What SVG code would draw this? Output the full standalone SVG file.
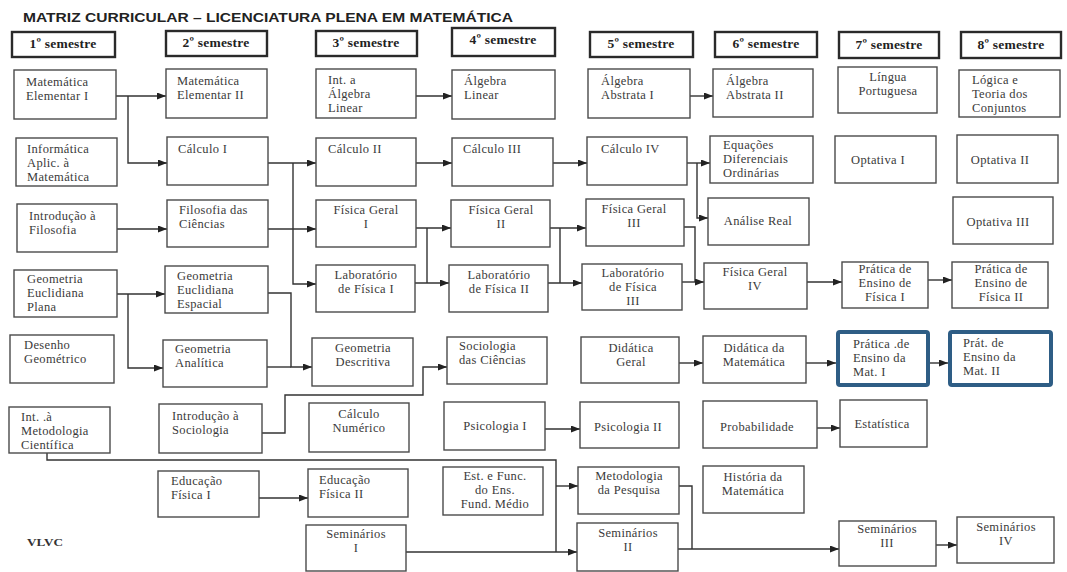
<svg xmlns="http://www.w3.org/2000/svg" width="1067" height="572" viewBox="0 0 1067 572">
<defs>
<marker id="ar" markerWidth="9" markerHeight="7" refX="9" refY="3.5" orient="auto" markerUnits="userSpaceOnUse"><path d="M0,0 L9,3.5 L0,7 z" fill="#222"/></marker>
<style>
.b{fill:#fff;stroke:#4a4a4a;stroke-width:1.4}
.h{fill:#fff;stroke:#2a2a2a;stroke-width:2.4}
.bl{fill:#fff;stroke:#2e5d85;stroke-width:4}
text{font-family:"Liberation Serif","Times New Roman",serif;font-size:12.5px;letter-spacing:0.35px;fill:#3a3a3a}
.c{text-anchor:middle}
.ht{font-weight:bold;fill:#222;font-size:13.5px;letter-spacing:0.2px}
.title{font-family:"Liberation Sans",Arial,sans-serif;font-weight:bold;font-size:13px;letter-spacing:0;fill:#222}
#connectors path{fill:none;stroke:#333;stroke-width:1.4}
#connectors path.a{marker-end:url(#ar)}
</style>
</defs>
<rect width="1067" height="572" fill="#fff"/>
<text class="title" x="23" y="22" textLength="490" lengthAdjust="spacingAndGlyphs">MATRIZ CURRICULAR – LICENCIATURA PLENA EM MATEMÁTICA</text>

<g id="headers">
<g id="s1"><rect class="h" x="12" y="32" width="103" height="25"/><text class="ht c" x="63" y="48">1º semestre</text></g>
<g id="s2"><rect class="h" x="166" y="31" width="101" height="25"/><text class="ht c" x="216" y="47">2º semestre</text></g>
<g id="s3"><rect class="h" x="316" y="31" width="101" height="25"/><text class="ht c" x="366" y="47">3º semestre</text></g>
<g id="s4"><rect class="h" x="452" y="28" width="103" height="28"/><text class="ht c" x="503" y="44">4º semestre</text></g>
<g id="s5"><rect class="h" x="590" y="32" width="103" height="25"/><text class="ht c" x="641" y="48">5º semestre</text></g>
<g id="s6"><rect class="h" x="715" y="32" width="102" height="25"/><text class="ht c" x="766" y="48">6º semestre</text></g>
<g id="s7"><rect class="h" x="839" y="32" width="100" height="26"/><text class="ht c" x="889" y="49">7º semestre</text></g>
<g id="s8"><rect class="h" x="961" y="32" width="100" height="26"/><text class="ht c" x="1011" y="49">8º semestre</text></g>
</g>

<g id="connectors">
<path class="a" d="M116,96 H166"/>
<path class="a" d="M128,96 V163 H167"/>
<path class="a" d="M268,163 H316"/>
<path class="a" d="M293,163 V284 H316"/>
<path class="a" d="M268,229 H316"/>
<path class="a" d="M416,96 H452"/>
<path class="a" d="M416,163 H452"/>
<path class="a" d="M553,163 H587"/>
<path class="a" d="M687,163 H710"/>
<path class="a" d="M697,163 V218 H708"/>
<path class="a" d="M690,96 H713"/>
<path class="a" d="M416,228 H451"/>
<path d="M427,228 V283"/>
<path class="a" d="M415,283 H449"/>
<path class="a" d="M550,228 H586"/>
<path d="M560,228 V283"/>
<path class="a" d="M548,283 H582"/>
<path d="M684,227 H695 V282"/>
<path class="a" d="M682,282 H704"/>
<path class="a" d="M807,282 H842"/>
<path class="a" d="M928,280 H952"/>
<path class="a" d="M117,229 H167"/>
<path class="a" d="M117,294 H165"/>
<path class="a" d="M128,294 V368 H163"/>
<path class="a" d="M268,293 H291 V367 H312"/>
<path d="M267,367 H291"/>
<path class="a" d="M262,433 H285 V395 H423 V367 H447"/>
<path class="a" d="M679,363 H703"/>
<path class="a" d="M806,363 H836"/>
<path class="a" d="M930,363 H948"/>
<path d="M47,453 V460 H556 V552"/>
<path class="a" d="M556,486 H578"/>
<path class="a" d="M406,552 H577"/>
<path class="a" d="M259,498 H308"/>
<path class="a" d="M545,429 H580"/>
<path class="a" d="M817,428 H840"/>
<path d="M679,486 H692 V549"/>
<path class="a" d="M678,549 H839"/>
<path class="a" d="M936,545 H957"/>
</g>

<g id="n_mat1"><rect class="b" x="14" y="70" width="102" height="49"/><text x="26" y="86">Matemática</text><text x="26" y="100">Elementar I</text></g>
<g id="n_mat2"><rect class="b" x="166" y="69" width="101" height="49"/><text x="177" y="85">Matemática</text><text x="177" y="99">Elementar II</text></g>
<g id="n_intalg"><rect class="b" x="316" y="69" width="100" height="49"/><text x="328" y="84">Int. a</text><text x="328" y="98">Álgebra</text><text x="328" y="112">Linear</text></g>
<g id="n_alglin"><rect class="b" x="452" y="70" width="103" height="49"/><text x="464" y="85">Álgebra</text><text x="464" y="99">Linear</text></g>
<g id="n_abs1"><rect class="b" x="588" y="69" width="102" height="49"/><text x="601" y="85">Álgebra</text><text x="601" y="99">Abstrata I</text></g>
<g id="n_abs2"><rect class="b" x="713" y="69" width="100" height="48"/><text x="726" y="85">Álgebra</text><text x="726" y="99">Abstrata II</text></g>
<g id="n_lingua"><rect class="b" x="838" y="67" width="99" height="46"/><text class="c" x="888" y="81">Língua</text><text class="c" x="888" y="95">Portuguesa</text></g>
<g id="n_logica"><rect class="b" x="959" y="70" width="101" height="47"/><text x="972" y="84">Lógica e</text><text x="972" y="98">Teoria dos</text><text x="972" y="112">Conjuntos</text></g>

<g id="n_info"><rect class="b" x="16" y="138" width="101" height="48"/><text x="27" y="153">Informática</text><text x="27" y="167">Aplic. à</text><text x="27" y="181">Matemática</text></g>
<g id="n_calc1"><rect class="b" x="167" y="137" width="101" height="48"/><text x="178" y="153">Cálculo I</text></g>
<g id="n_calc2"><rect class="b" x="316" y="138" width="100" height="48"/><text x="328" y="153">Cálculo II</text></g>
<g id="n_calc3"><rect class="b" x="452" y="138" width="101" height="48"/><text x="463" y="153">Cálculo III</text></g>
<g id="n_calc4"><rect class="b" x="587" y="137" width="100" height="48"/><text x="601" y="153">Cálculo IV</text></g>
<g id="n_edo"><rect class="b" x="710" y="136" width="103" height="47"/><text x="723" y="149">Equações</text><text x="723" y="163">Diferenciais</text><text x="723" y="177">Ordinárias</text></g>
<g id="n_opt1"><rect class="b" x="835" y="136" width="101" height="47"/><text class="c" x="878" y="164">Optativa I</text></g>
<g id="n_opt2"><rect class="b" x="957" y="135" width="101" height="48"/><text class="c" x="1000" y="164">Optativa II</text></g>

<g id="n_introfil"><rect class="b" x="17" y="204" width="100" height="48"/><text x="29" y="220">Introdução à</text><text x="29" y="234">Filosofia</text></g>
<g id="n_filcien"><rect class="b" x="167" y="200" width="101" height="47"/><text x="179" y="214">Filosofia das</text><text x="179" y="228">Ciências</text></g>
<g id="n_fg1"><rect class="b" x="316" y="200" width="100" height="47"/><text class="c" x="366" y="214">Física Geral</text><text class="c" x="366" y="228">I</text></g>
<g id="n_fg2"><rect class="b" x="451" y="200" width="99" height="47"/><text class="c" x="501" y="214">Física Geral</text><text class="c" x="501" y="228">II</text></g>
<g id="n_fg3"><rect class="b" x="586" y="199" width="98" height="47"/><text class="c" x="634" y="213">Física Geral</text><text class="c" x="634" y="227">III</text></g>
<g id="n_analise"><rect class="b" x="708" y="198" width="101" height="47"/><text class="c" x="758" y="225">Análise Real</text></g>
<g id="n_opt3"><rect class="b" x="953" y="197" width="100" height="47"/><text class="c" x="998" y="226">Optativa III</text></g>

<g id="n_geoplana"><rect class="b" x="14" y="270" width="103" height="47"/><text x="27" y="283">Geometria</text><text x="27" y="297">Euclidiana</text><text x="27" y="311">Plana</text></g>
<g id="n_geoesp"><rect class="b" x="165" y="266" width="103" height="47"/><text x="177" y="280">Geometria</text><text x="177" y="294">Euclidiana</text><text x="177" y="308">Espacial</text></g>
<g id="n_lab1"><rect class="b" x="316" y="265" width="99" height="47"/><text class="c" x="366" y="279">Laboratório</text><text class="c" x="366" y="293">de Física   I</text></g>
<g id="n_lab2"><rect class="b" x="449" y="265" width="99" height="47"/><text class="c" x="499" y="279">Laboratório</text><text class="c" x="499" y="293">de Física   II</text></g>
<g id="n_lab3"><rect class="b" x="582" y="264" width="100" height="46"/><text class="c" x="633" y="277">Laboratório</text><text class="c" x="633" y="291">de Física</text><text class="c" x="633" y="305">III</text></g>
<g id="n_fg4"><rect class="b" x="704" y="263" width="103" height="46"/><text class="c" x="755" y="276">Física Geral</text><text class="c" x="755" y="290">IV</text></g>
<g id="n_pef1"><rect class="b" x="842" y="262" width="86" height="46"/><text class="c" x="885" y="273">Prática de</text><text class="c" x="885" y="287">Ensino  de</text><text class="c" x="885" y="301">Física  I</text></g>
<g id="n_pef2"><rect class="b" x="952" y="262" width="96" height="46"/><text class="c" x="1001" y="273">Prática de</text><text class="c" x="1001" y="287">Ensino de</text><text class="c" x="1001" y="301">Física II</text></g>

<g id="n_desenho"><rect class="b" x="10" y="335" width="104" height="48"/><text x="24" y="349">Desenho</text><text x="24" y="363">Geométrico</text></g>
<g id="n_geoana"><rect class="b" x="163" y="340" width="104" height="47"/><text x="175" y="353">Geometria</text><text x="175" y="367">Analítica</text></g>
<g id="n_geodesc"><rect class="b" x="312" y="338" width="101" height="48"/><text class="c" x="363" y="352">Geometria</text><text class="c" x="363" y="366">Descritiva</text></g>
<g id="n_socci"><rect class="b" x="447" y="337" width="100" height="47"/><text x="459" y="350">Sociologia</text><text x="459" y="364">das Ciências</text></g>
<g id="n_didger"><rect class="b" x="581" y="337" width="98" height="46"/><text class="c" x="631" y="352">Didática</text><text class="c" x="631" y="366">Geral</text></g>
<g id="n_didmat"><rect class="b" x="703" y="336" width="103" height="47"/><text class="c" x="754" y="352">Didática da</text><text class="c" x="754" y="366">Matemática</text></g>
<g id="n_pem1"><rect class="bl" x="838" y="332" width="90" height="53" rx="2"/><text x="853" y="348">Prática .de</text><text x="853" y="362">Ensino da</text><text x="853" y="376">Mat. I</text></g>
<g id="n_pem2"><rect class="bl" x="950" y="332" width="101" height="53" rx="2"/><text x="963" y="347">Prát. de</text><text x="963" y="361">Ensino da</text><text x="963" y="375">Mat. II</text></g>

<g id="n_intmet"><rect class="b" x="9" y="407" width="101" height="46"/><text x="21" y="421">Int. .à</text><text x="21" y="435">Metodologia</text><text x="21" y="449">Científica</text></g>
<g id="n_introsoc"><rect class="b" x="159" y="404" width="103" height="49"/><text x="172" y="420">Introdução à</text><text x="172" y="434">Sociologia</text></g>
<g id="n_calcnum"><rect class="b" x="309" y="403" width="100" height="49"/><text class="c" x="359" y="418">Cálculo</text><text class="c" x="359" y="432">Numérico</text></g>
<g id="n_psi1"><rect class="b" x="444" y="402" width="101" height="48"/><text class="c" x="495" y="430">Psicologia I</text></g>
<g id="n_psi2"><rect class="b" x="580" y="402" width="99" height="46"/><text class="c" x="628" y="431">Psicologia II</text></g>
<g id="n_prob"><rect class="b" x="703" y="401" width="114" height="47"/><text class="c" x="757" y="431">Probabilidade</text></g>
<g id="n_estat"><rect class="b" x="840" y="400" width="87" height="47"/><text class="c" x="882" y="428">Estatística</text></g>

<g id="n_edf1"><rect class="b" x="158" y="471" width="101" height="46"/><text x="171" y="485">Educação</text><text x="171" y="499">Física I</text></g>
<g id="n_edf2"><rect class="b" x="308" y="469" width="100" height="48"/><text x="319" y="484">Educação</text><text x="319" y="498">Física II</text></g>
<g id="n_estfunc"><rect class="b" x="443" y="467" width="100" height="48"/><text class="c" x="495" y="480">Est. e Func.</text><text class="c" x="495" y="494">do Ens.</text><text class="c" x="495" y="508">Fund. Médio</text></g>
<g id="n_metpesq"><rect class="b" x="578" y="467" width="101" height="47"/><text class="c" x="629" y="480">Metodologia</text><text class="c" x="629" y="494">da Pesquisa</text></g>
<g id="n_hist"><rect class="b" x="703" y="466" width="101" height="47"/><text class="c" x="753" y="481">História da</text><text class="c" x="753" y="495">Matemática</text></g>

<g id="n_sem1"><rect class="b" x="306" y="525" width="100" height="46"/><text class="c" x="356" y="538">Seminários</text><text class="c" x="356" y="552">I</text></g>
<g id="n_sem2"><rect class="b" x="577" y="523" width="101" height="48"/><text class="c" x="628" y="537">Seminários</text><text class="c" x="628" y="551">II</text></g>
<g id="n_sem3"><rect class="b" x="839" y="521" width="97" height="45"/><text class="c" x="887" y="533">Seminários</text><text class="c" x="887" y="547">III</text></g>
<g id="n_sem4"><rect class="b" x="957" y="517" width="97" height="46"/><text class="c" x="1006" y="531">Seminários</text><text class="c" x="1006" y="545">IV</text></g>

<text x="27" y="546" style="font-weight:bold;font-size:11px;letter-spacing:0;fill:#333" textLength="36" lengthAdjust="spacingAndGlyphs">VLVC</text>
</svg>
